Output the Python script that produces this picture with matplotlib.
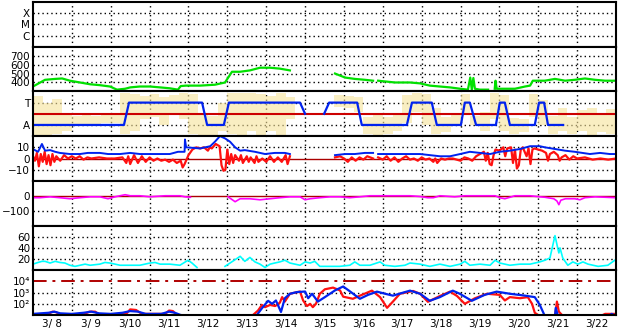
import numpy as np
import matplotlib
matplotlib.use('Agg')
import matplotlib.pyplot as plt

plt.rcParams['font.family'] = ['DejaVu Sans']

# time is in days since 3/8 00:00
day_labels = ['3/ 8', '3/ 9', '3/10', '3/11', '3/12', '3/13', '3/14', '3/15',
              '3/16', '3/17', '3/18', '3/19', '3/20', '3/21', '3/22']
nan = np.nan

# solar wind speed
v_t = [0, 0.31, 0.57, 0.75, 0.95, 1.21, 1.47, 1.72, 1.98, 2.16, 2.37, 2.50, 2.75, 3.01, 3.27,
       3.52, 3.73, 3.80, 3.94, 4.30, 4.68, 4.94, 5.12, 5.33, 5.58, 5.84, 6.10, 6.35, 6.61, 6.7,
       7.77, 8.03, 8.28, 8.54, 8.75, 8.8, 8.88, 9.31, 9.70, 9.96, 10.21, 10.47, 10.73, 10.99,
       11.19, 11.25, 11.29, 11.33, 11.37, 11.50, 11.71, 11.8, 11.88, 11.90, 11.93, 12.14, 12.40,
       12.66, 12.79, 12.86, 13.17, 13.43, 13.69, 13.94, 14.20, 14.46, 14.72, 15.0]
v_val = [355, 430, 440, 445, 420, 400, 380, 370, 355, 320, 330, 345, 355, 355, 345,
         335, 320, 360, 365, 365, 375, 400, 520, 520, 535, 565, 565, 555, 535, nan,
         500, 455, 440, 430, 420, nan, 420, 400, 400, 390, 365, 355, 345, 330,
         320, 455, 320, 450, 330, 320, 320, nan, 330, 420, 330, 330, 330,
         355, 365, 420, 420, 440, 420, 430, 445, 430, 420, 420]

# sector polarity (T = 1, A = -1)
pol_t = [0, 2.34, 2.47, 4.35, 4.48, 4.91, 5.04, 6.87, 7.00, 7.01, 7.49, 7.62, 8.34, 8.46,
         9.62, 9.75, 10.26, 10.39, 11.01, 11.11, 11.24, 11.40, 11.91, 12.01, 12.14, 12.27,
         12.91, 13.02, 13.15, 13.25, 13.64]
pol_val = [-1, -1, 1, 1, -1, -1, 1, 1, 0, nan, 0, 1, 1, -1,
           -1, 1, 1, -1, -1, 1, 1, -1, -1, 1, 1, -1,
           -1, 1, 1, -1, -1]

# IMF angle spread, 6-hour bins (low / high)
ang_lo = [-2, -2, -1.8, -1.5, -1.0, -1.0, -0.9, -0.8, -0.8, -1.8, -1.5, -0.5,
          -0.3, -1.0, 0, -0.5, -1.8, -2, -2, -1.5, -1.8, -2, -1.5, -2,
          -1.5, -2.0, -0.5, nan, nan, nan, nan, 0.6, 0.5, 0.2, -1.8, -2,
          -1.8, -1.5, -0.8, 0.2, -1.0, -1.8, -1.6, -1.0, 0.0, -1.0, -1.5, -0.5,
          -1.5, -1.8, -1.6, -0.3, -1.0, -1.8, -1.5, -1.8, -1.5, -2, -1.6, -1.8]
ang_hi = [1.6, 1.0, 1.3, 0.0, -0.2, -0.1, -0.2, 0.0, 0.1, 1.9, 1.8, 1.6,
          1.8, 1.5, 1.7, 1.9, 1.8, 0, -0.2, 1.0, 1.9, 1.9, 1.9, 1.8,
          1.6, 1.9, 1.5, nan, nan, nan, nan, 1.7, 1.6, 1.5, -0.3, 0,
          -0.3, 0, 1.7, 1.9, 1.8, 0.5, -0.3, 0.0, 1.8, -0.2, 0.2, 1.9,
          1.7, -0.4, -0.5, 1.8, 1.2, -0.2, 0.5, -0.3, 0.3, 0.5, 0, 0.4]

# IMF Bt
bt_t = [0, 0.13, 0.23, 0.31, 0.44, 0.57, 0.69, 0.95, 1.21, 1.41, 1.72, 1.93, 2.24, 2.50, 2.75,
        3.01, 3.27, 3.52, 3.73, 3.90, 3.91, 3.94, 4.30, 4.56, 4.68, 4.81, 4.94, 5.07, 5.20, 5.33,
        5.45, 5.71, 5.97, 6.22, 6.48, 6.61, 6.7, 7.77, 8.03, 8.28, 8.54, 8.75, 8.8, 8.88, 9.14,
        9.44, 9.70, 9.96, 10.47, 10.73, 10.99, 11.24, 11.50, 11.76, 12.01, 12.27, 12.53, 12.79,
        13.04, 13.17, 13.43, 13.69, 13.94, 14.33, 14.59, 14.84, 15.0]
bt_val = [8.4, 6, 13, 7, 7.5, 6, 5, 4, 4, 5, 5, 4, 4, 5, 4,
          4, 4, 4, 6, 6, 17, 10, 9, 11, 15, 20, 18, 15, 10, 7,
          7.5, 6, 4, 5, 5, 4, nan, 3, 4, 4, 5, 5, nan, 4, 4,
          4, 4, 4, 2, 2, 4, 6, 5, 4, 6, 7, 8.5, 11,
          11, 10, 8.5, 7, 6, 4, 5, 4, 4]

# IMF Bz
bz_t = [0, 0.05, 0.1, 0.15, 0.2, 0.25, 0.3, 0.35, 0.4, 0.45, 0.5, 0.55, 0.6, 0.7, 0.8, 0.9,
        1.0, 1.1, 1.2, 1.3, 1.4, 1.5, 1.7, 1.9, 2.1, 2.3, 2.4, 2.45, 2.5, 2.6, 2.7, 2.8, 2.9,
        3.0, 3.1, 3.2, 3.3, 3.4, 3.5, 3.6, 3.7, 3.8, 3.85, 3.9, 4.0, 4.1, 4.2, 4.3, 4.4, 4.5,
        4.55, 4.6, 4.7, 4.8, 4.85, 4.9, 4.95, 5.0, 5.05, 5.1, 5.15, 5.2, 5.3, 5.35, 5.4, 5.5,
        5.55, 5.6, 5.7, 5.75, 5.8, 5.9, 6.0, 6.1, 6.2, 6.3, 6.4, 6.5, 6.55, 6.61, 6.7,
        7.77, 7.9, 8.0, 8.1, 8.2, 8.3, 8.4, 8.5, 8.6, 8.75, 8.8, 8.88, 9.0, 9.1, 9.2, 9.3,
        9.4, 9.5, 9.6, 9.7, 9.8, 9.9, 10.0, 10.1, 10.2, 10.3, 10.35, 10.4, 10.5, 10.6, 10.7,
        10.8, 10.9, 11.0, 11.1, 11.2, 11.3, 11.4, 11.5, 11.6, 11.65, 11.7, 11.75, 11.8, 11.85,
        11.9, 12.0, 12.1, 12.15, 12.2, 12.3, 12.35, 12.4, 12.45, 12.5, 12.55, 12.6, 12.7,
        12.75, 12.8, 12.85, 12.9, 13.0, 13.1, 13.2, 13.25, 13.3, 13.4, 13.5, 13.55, 13.6,
        13.7, 13.8, 13.9, 14.0, 14.2, 14.4, 14.6, 14.8, 15.0]
bz_val = [2, -2, 5, -7, 4, -3, 6, -5, 3, -6, 4, -3, 2, -2, 3, 0,
          2, 0, 2, -1, 1, 0, 1, 0, 0, 1, -4, 2, -5, 3, -4, 2, -3,
          1, -2, 0, -2, -1, -3, -1, -4, -2, -8, -5, 3, 8, 10, 9, 10, 7,
          10, 9, 13, 11, -6, -11, -10, 8, -5, 4, -4, 3, -2, 3, -4, 2,
          -3, 1, -4, 2, -3, 0, -3, 2, -3, 1, -3, 3, -5, 2, nan,
          1, 2, 0, -3, 1, -2, 1, -1, 2, 0, nan, 1, -1, 2, -2, 1,
          -3, 0, 2, -1, 0, -2, 1, -1, 0, -3, 0, -4, 0, -1, 0,
          0, -1, -2, 1, 0, -2, 2, 4, 6, -2, 5, -5, -6, 3,
          8, 7, 10, 2, 9, 10, -4, 8, -9, -6, 8, 10, 2,
          9, -5, 8, 9, 8, 7, 5, -2, 4, 6, 3, -2, 1,
          3, -1, 2, 0, 1, -1, 0, -1, 0]

# Dst
dst_t = [0, 0.18, 0.44, 0.69, 0.95, 1.21, 1.47, 1.72, 1.93, 2.11, 2.37, 2.50, 2.75, 3.01,
         3.40, 3.52, 3.78, 3.91, 4.05, 4.5, 5.02, 5.20, 5.33, 5.58, 5.84, 6.10, 6.35, 6.61,
         6.87, 7.0, 7.13, 7.38, 7.64, 7.89, 8.15, 8.41, 8.67, 8.92, 9.18, 9.44, 9.70, 9.96,
         10.15, 10.3, 10.47, 10.85, 11.11, 11.50, 11.89, 12.01, 12.14, 12.40, 12.79, 13.04,
         13.17, 13.4, 13.48, 13.53, 13.58, 13.7, 13.94, 14.07, 14.20, 14.46, 15.0]
dst_val = [-13, -13, -7, -13, -20, -13, -7, -7, -20, -7, 7, 0, 0, -7,
           0, 0, 0, -7, -10, nan, -7, -40, -20, -20, -27, -20, -13, -7,
           -7, -27, -20, -13, -7, -7, -13, -7, 0, 0, 0, 0, 0, -5,
           -13, -13, 0, -7, 0, 0, 0, -13, -20, 0, 0, -7,
           -10, -20, -35, -60, -30, -20, -20, -27, -13, -7, -13]

# proton density
np_t = [0, 0.13, 0.23, 0.31, 0.44, 0.57, 0.69, 0.82, 0.95, 1.08, 1.21, 1.34, 1.47, 1.72, 1.85,
        1.98, 2.11, 2.24, 2.50, 2.75, 3.01, 3.14, 3.27, 3.52, 3.78, 3.99, 4.09, 4.22, 4.5,
        4.94, 5.07, 5.33, 5.45, 5.58, 5.71, 5.84, 5.97, 6.10, 6.22, 6.35, 6.48, 6.61, 6.87,
        7.00, 7.13, 7.25, 7.38, 7.64, 7.89, 8.15, 8.28, 8.41, 8.67, 8.93, 9.05, 9.31, 9.57,
        9.70, 9.96, 10.21, 10.47, 10.73, 10.99, 11.11, 11.24, 11.50, 11.76, 11.89, 12.01,
        12.14, 12.27, 12.53, 12.79, 13.04, 13.17, 13.30, 13.43, 13.50, 13.53, 13.56, 13.63,
        13.76, 13.89, 14.02, 14.15, 14.28, 14.54, 14.79, 14.97]
np_val = [11, 14, 16, 16, 13, 16, 14, 13, 9, 7, 9, 11, 9, 11, 14,
          13, 11, 9, 9, 9, 13, 14, 11, 11, 9, 18, 13, 5, nan,
          7, 13, 25, 16, 23, 15, 11, 5, 11, 13, 15, 18, 13, 9,
          15, 13, 16, 7, 7, 7, 9, 15, 9, 9, 15, 9, 7, 9,
          13, 11, 7, 11, 7, 11, 16, 9, 11, 9, 18, 13,
          11, 9, 11, 11, 15, 18, 22, 62, 40, 31, 40, 22,
          9, 15, 11, 15, 11, 7, 9, 18]

# energetic proton flux, log10 values (two channels)
pr1_t = [0, 0.4, 0.5, 0.6, 0.7, 1.3, 1.45, 1.6, 1.7, 2.4, 2.5, 2.65, 2.8, 3.4, 3.5, 3.6, 3.7,
         4.3, 5.5, 5.66, 5.79, 5.89, 5.97, 6.10, 6.23, 6.35, 6.41, 6.48, 6.61, 6.74, 6.87, 6.95,
         7.05, 7.13, 7.20, 7.28, 7.38, 7.51, 7.72, 7.90, 7.98, 8.23, 8.46, 8.72, 8.93, 9.11,
         9.26, 9.44, 9.78, 9.96, 10.16, 10.47, 10.73, 10.91, 11.11, 11.37, 11.68, 12.01,
         12.14, 12.27, 12.53, 12.73, 12.84, 12.91, 13.04, 13.43, 13.48, 13.53, 13.61, 13.8,
         14.6, 14.72, 14.97]
pr1_val = [1.0, 1.1, 1.3, 1.25, 1.0, 1.05, 1.3, 1.3, 1.05, 1.1, 1.5, 1.45, 1.1, 1.1, 1.4, 1.35, 1.0,
           0.9, 0.9, 1.0, 1.4, 1.9, 1.7, 1.9, 1.8, 2.1, 2.6, 2.2, 2.9, 3.0, 3.1, 2.3,
           1.8, 2.0, 1.7, 2.0, 2.9, 3.3, 3.45, 3.2, 2.64, 2.45, 2.8, 3.18, 2.6, 1.64,
           2.2, 2.9, 3.15, 2.9, 2.18, 2.7, 3.09, 2.7, 2.0, 2.5, 2.9, 2.8,
           2.3, 2.6, 2.5, 2.6, 2.0, 1.2, 0.9, 0.9, 2.2, 1.3, 1.0, 0.9,
           0.9, 1.1, 1.1]
pr2_t = [0, 0.2, 0.4, 0.55, 0.7, 1.0, 1.3, 1.5, 1.7, 2.0, 2.3, 2.5, 2.7, 2.9, 3.3, 3.5, 3.65,
         3.8, 4.1, 5.7, 5.76, 5.89, 6.05, 6.15, 6.25, 6.38, 6.48, 6.61, 6.79, 7.00, 7.08, 7.18,
         7.33, 7.51, 7.77, 7.98, 8.16, 8.41, 8.62, 8.85, 9.06, 9.26, 9.52, 9.70, 9.96, 10.21,
         10.47, 10.80, 10.98, 11.29, 11.62, 11.93, 12.27, 12.66, 12.91, 13.04, 13.17, 13.43,
         13.45, 13.50, 13.7, 14.8, 14.89, 15.0]
pr2_val = [1.1, 1.15, 1.2, 1.3, 1.15, 1.1, 1.2, 1.3, 1.15, 1.1, 1.2, 1.35, 1.3, 1.1, 1.1, 1.3, 1.2,
           1.0, 0.9, 0.9, 1.0, 1.6, 2.27, 2.0, 2.3, 1.27, 2.5, 2.9, 3.05, 3.1, 2.5, 2.9,
           2.2, 2.6, 3.2, 3.55, 3.1, 2.45, 2.8, 3.09, 2.9, 2.73, 3.0, 3.18, 2.9, 2.27,
           2.6, 3.18, 2.9, 2.27, 2.8, 3.09, 2.9, 2.73, 2.6, 1.9, 0.9, 0.9,
           1.64, 1.0, 0.9, 0.9, 1.1, 0.9]

fig = plt.figure(figsize=(6.28, 3.34), dpi=100)
gs = fig.add_gridspec(7, 1, left=33/628, right=616/628, top=1-2/334, bottom=1-315/334, hspace=0)
axes = [fig.add_subplot(gs[i]) for i in range(7)]

dot = (0, (1, 2.2))
for i, ax in enumerate(axes):
    ax.set_xlim(0, 15)
    for d in range(1, 15):
        ax.axvline(d, color='black', lw=1, ls=dot, zorder=0)
    ax.set_xticks(np.arange(0.5, 15, 1))
    ax.set_xticklabels(day_labels if i == 6 else [])
    ax.tick_params(length=0, labelsize=7.5, pad=2)
    for s in ax.spines.values():
        s.set_linewidth(1.5)

def hgrid(ax, vals):
    for v in vals:
        ax.axhline(v, color='black', lw=1, ls=dot, zorder=0)

# panel 1: flare class
ax = axes[0]
ax.set_ylim(0, 4)
ax.set_yticks([1, 2, 3])
ax.set_yticklabels(['C', 'M', 'X'])
hgrid(ax, [1, 2, 3])

# panel 2: speed
ax = axes[1]
ax.set_ylim(300, 800)
ax.set_yticks([400, 500, 600, 700])
hgrid(ax, [400, 500, 600, 700])
ax.plot(v_t, v_val, color='#00e000', lw=1.6)

# panel 3: sector
ax = axes[2]
ax.set_ylim(-2, 2)
ax.set_yticks([-1, 1])
ax.set_yticklabels(['A', 'T'])
hgrid(ax, [-1, 1])
bins = np.arange(0, 15.01, 0.25)
ax.stairs(ang_hi, bins, baseline=ang_lo, fill=True, color='#f6e39a', alpha=0.6, lw=0)
ax.axhline(0, color='#cc0000', lw=1.5)
ax.plot(pol_t, pol_val, color='#0022ee', lw=1.6)

# panel 4: Bt / Bz
ax = axes[3]
ax.set_ylim(-20, 20)
ax.set_yticks([-10, 0, 10])
hgrid(ax, [-10, 10])
ax.axhline(0, color='#aa0000', lw=1)
ax.plot(bz_t, bz_val, color='#ff1010', lw=1.6)
ax.plot(bt_t, bt_val, color='#0022ee', lw=1.4)

# panel 5: Dst
ax = axes[4]
ax.set_ylim(-200, 100)
ax.set_yticks([-100, 0])
hgrid(ax, [-100])
ax.axhline(0, color='#aa0000', lw=1)
ax.plot(dst_t, dst_val, color='#ff00ff', lw=1.2)

# panel 6: density
ax = axes[5]
ax.set_ylim(0, 80)
ax.set_yticks([20, 40, 60])
hgrid(ax, [20, 40, 60])
ax.plot(np_t, np_val, color='#00ffff', lw=1.2)

# panel 7: proton flux
ax = axes[6]
ax.set_ylim(1, 5)
ax.set_yticks([2, 3, 4])
ax.set_yticklabels(['10\u00b2', '10\u00b3', '10\u2074'])
ax.tick_params(axis='y', labelsize=7.5)
hgrid(ax, [2, 3])
ax.axhline(4, color='#b00000', lw=1.4, dashes=(7, 3, 1.5, 3))
ax.plot(pr1_t, pr1_val, color='#ff1010', lw=1.6)
ax.plot(pr2_t, pr2_val, color='#0022ee', lw=1.6)
ax.tick_params(axis='x', pad=3)

fig.savefig('out.png', dpi=100)
